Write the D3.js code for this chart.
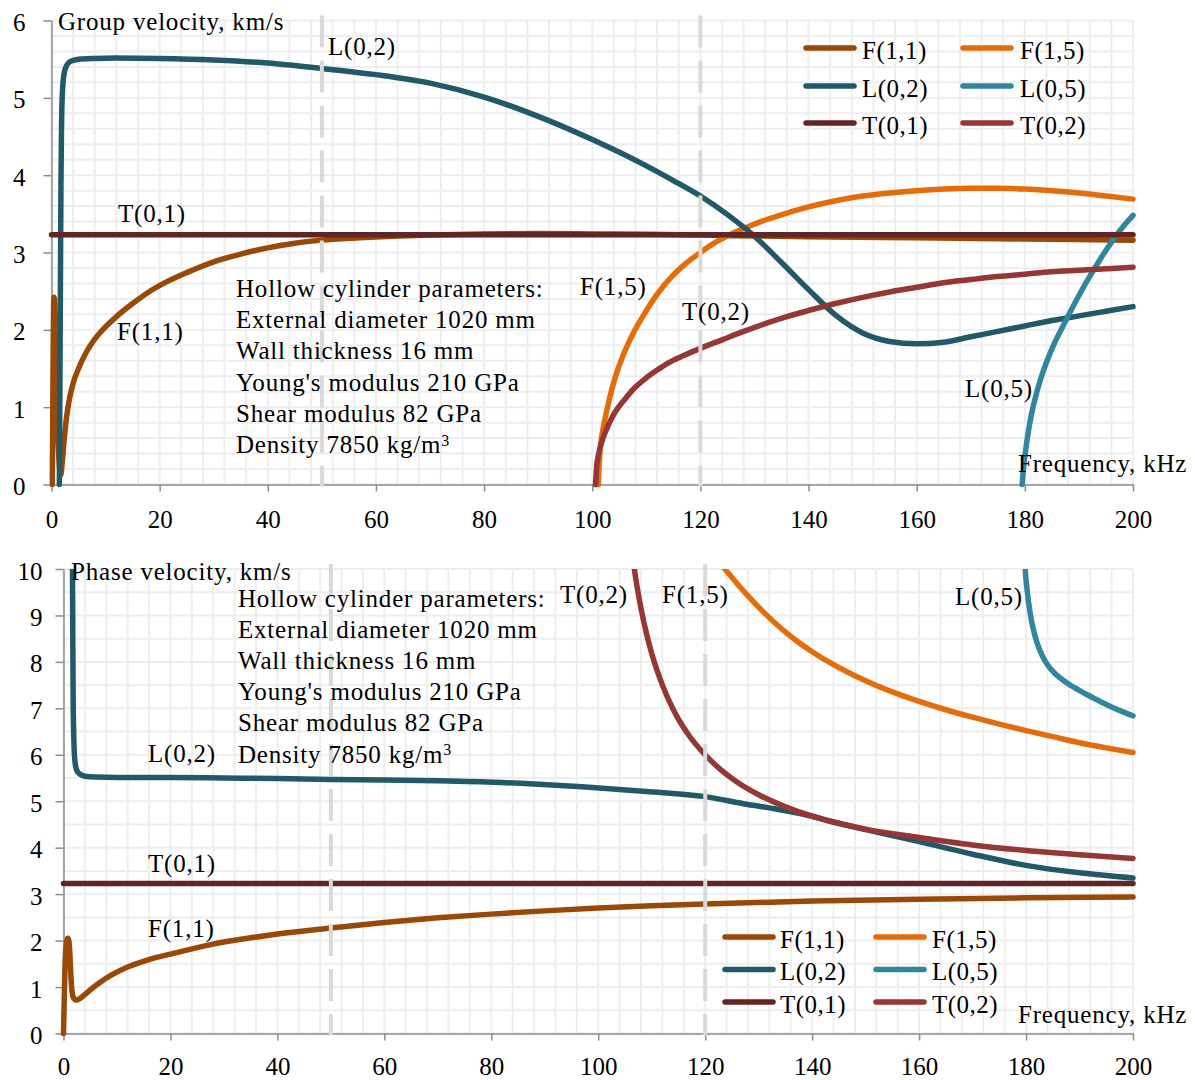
<!DOCTYPE html>
<html><head><meta charset="utf-8">
<script src="https://cdn.jsdelivr.net/npm/d3@7"></script>
<style>
body{margin:0;background:#fff}
text{font-family:"Liberation Serif","Times New Roman",serif;font-size:25px;fill:#000;letter-spacing:0.8px}
</style>
</head><body><svg id="c" width="1195" height="1080"></svg>
<script>
// ---------- DATA ----------
const xTicks = [0,20,40,60,80,100,120,140,160,180,200];
const yTicksGroup = [0,1,2,3,4,5,6];
const yTicksPhase = [0,1,2,3,4,5,6,7,8,9,10];
const seriesNames = ["F(1,1)","F(1,5)","L(0,2)","L(0,5)","T(0,1)","T(0,2)"];
const seriesColors = ["#984807","#E46C0A","#215968","#31859C","#632523","#953735"];
const markerFreqs = [50,120];
const paramLines = ["Hollow cylinder parameters:","External diameter 1020 mm","Wall thickness 16 mm","Young's modulus 210 GPa","Shear modulus 82 GPa","Density 7850 kg/m"];

// Group velocity (km/s) vs frequency (kHz)
const F11g_f = [0.15,0.3,0.45,0.6,0.8,1.0,1.2,1.45,1.7,2.0,2.4,2.8,3.3,4,5,6.5,8,10,12,15,18,21,25,30,35,40,45,50,60,70,80,90,100,110,120,140,160,180,200];
const F11g_v = [0,1.6,2.42,2.35,1.75,1.1,0.6,0.25,0.12,0.3,0.62,0.88,1.1,1.31,1.50,1.72,1.88,2.04,2.17,2.34,2.49,2.61,2.74,2.88,2.98,3.06,3.12,3.16,3.20,3.225,3.24,3.245,3.24,3.235,3.225,3.205,3.19,3.175,3.16];
const F15g_f = [101.1,101.4,102,102.7,103.5,104.5,106,107.6,109.5,111.3,113,115,117,120,123,126,129,132,136,140,145,150,155,160,165,170,175,180,185,190,195,200];
const F15g_v = [0,0.40,0.72,0.96,1.2,1.44,1.72,1.96,2.19,2.39,2.55,2.71,2.84,3.0,3.14,3.25,3.34,3.42,3.51,3.59,3.67,3.73,3.77,3.80,3.82,3.83,3.83,3.82,3.80,3.77,3.73,3.69];
const L02g_f = [1.45,1.55,1.65,1.75,1.85,2.0,2.3,2.8,3.5,5,8,12,20,30,40,50,60,70,80,90,100,110,115,120,125,130,135,140,145,150,155,160,165,170,175,180,185,190,195,200];
const L02g_v = [0,1.2,2.6,3.9,4.6,5.05,5.3,5.42,5.47,5.5,5.51,5.515,5.51,5.49,5.45,5.38,5.30,5.19,5.01,4.76,4.46,4.12,3.93,3.73,3.49,3.21,2.87,2.52,2.19,1.96,1.85,1.82,1.84,1.91,1.98,2.05,2.12,2.18,2.24,2.30];
const L05g_f = [179.5,179.7,180,180.5,181.2,182,183,184,185.5,187,188.6,190.2,192,194,196.3,198,200];
const L05g_v = [0,0.17,0.36,0.62,0.90,1.14,1.38,1.58,1.83,2.04,2.26,2.47,2.69,2.92,3.16,3.32,3.48];
const T01g_f = [0,50,100,150,200];
const T01g_v = [3.23,3.23,3.23,3.23,3.23];
const T02g_f = [100.6,100.8,101.2,102,103,104,106,108,110,112,114,117,120,124,128,132,136,140,145,150,155,160,165,170,175,180,185,190,195,200];
const T02g_v = [0,0.22,0.40,0.60,0.77,0.91,1.10,1.26,1.38,1.48,1.57,1.67,1.76,1.87,1.98,2.08,2.17,2.25,2.34,2.42,2.49,2.55,2.61,2.65,2.69,2.72,2.75,2.77,2.79,2.81];

// Phase velocity (km/s) vs frequency (kHz)
const F11p_f = [0,0.25,0.5,0.8,1.0,1.2,1.4,1.6,1.9,2.3,2.7,3.5,5,6.8,9,12,16,20,25,30,35,40,50,60,70,80,90,100,110,120,140,160,180,200];
const F11p_v = [0,1.3,1.9,2.05,2.0,1.7,1.2,0.9,0.76,0.72,0.73,0.79,0.94,1.10,1.26,1.43,1.59,1.71,1.85,1.97,2.06,2.14,2.27,2.39,2.49,2.57,2.64,2.70,2.75,2.79,2.85,2.89,2.92,2.94];
const F15p_f = [121.5,123,125,128,131,134,137,140,144,148,152,156,160,165,170,175,180,185,190,195,200];
const F15p_v = [10.5,10.12,9.82,9.42,9.06,8.74,8.46,8.22,7.94,7.70,7.49,7.31,7.15,6.97,6.81,6.66,6.52,6.39,6.26,6.15,6.05];
const L02p_f = [1.6,1.7,1.75,1.8,1.9,2.0,2.2,2.5,3.0,4,6,10,20,30,40,50,60,70,78,88,97,109,120,128,133,138,145,150,160,170,180,190,200];
const L02p_v = [12,9.5,8.3,7.3,6.5,6.1,5.8,5.66,5.59,5.54,5.52,5.51,5.51,5.50,5.49,5.47,5.46,5.44,5.42,5.37,5.31,5.21,5.10,4.93,4.84,4.73,4.52,4.39,4.13,3.86,3.62,3.46,3.35];
const L05p_f = [179.5,179.8,180.2,180.7,181.3,182,183,184,185.5,187,189,191,193.5,196,198,200];
const L05p_v = [11.2,10.1,9.55,9.1,8.73,8.43,8.14,7.94,7.74,7.60,7.45,7.32,7.17,7.03,6.93,6.84];
const T01p_f = [0,50,100,150,200];
const T01p_v = [3.23,3.23,3.23,3.23,3.23];
const T02p_f = [105.8,106.7,108,109,110,112,114,117,120,123,126,130,135,140,145,150,160,170,180,190,200];
const T02p_v = [11,10.05,9.15,8.62,8.18,7.5,6.98,6.41,6.0,5.67,5.41,5.14,4.88,4.68,4.53,4.40,4.22,4.06,3.94,3.85,3.77];

// ---------- DRAWING ----------
const zip = (f,v) => f.map((d,i)=>[d, v[i]]);
const groupSeries = [zip(F11g_f,F11g_v), zip(F15g_f,F15g_v), zip(L02g_f,L02g_v), zip(L05g_f,L05g_v), zip(T01g_f,T01g_v), zip(T02g_f,T02g_v)];
const phaseSeries = [zip(F11p_f,F11p_v), zip(F15p_f,F15p_v), zip(L02p_f,L02p_v), zip(L05p_f,L05p_v), zip(T01p_f,T01p_v), zip(T02p_f,T02p_v)];

const svg = d3.select("#c");
const LINE_W = 5.5;

function panel(cfg){
  const g = svg.append("g");
  const x = d3.scaleLinear().domain([0,200]).range([cfg.left, cfg.right]);
  const y = d3.scaleLinear().domain([0,cfg.ymax]).range([cfg.bottom, cfg.top]);

  // grid
  g.append("g").selectAll("line").data(d3.range(0,201,4)).join("line")
    .attr("x1",d=>x(d)).attr("x2",d=>x(d)).attr("y1",cfg.top).attr("y2",cfg.bottom)
    .attr("stroke","#eeeeee").attr("stroke-width",2);
  g.append("g").selectAll("line").data(d3.range(0, Math.round(cfg.ymax/cfg.gridStep)+1)).join("line")
    .attr("x1",cfg.left).attr("x2",cfg.right)
    .attr("y1",d=>y(d*cfg.gridStep)).attr("y2",d=>y(d*cfg.gridStep))
    .attr("stroke","#eeeeee").attr("stroke-width",2);

  // axes
  const ay = g.append("g").attr("transform",`translate(${cfg.left},0)`)
    .call(d3.axisLeft(y).tickValues(cfg.yTicks).tickFormat(d3.format("d")).tickSize(8).tickSizeOuter(0).tickPadding(cfg.yPad));
  const ax = g.append("g").attr("transform",`translate(0,${cfg.bottom})`)
    .call(d3.axisBottom(x).tickValues(xTicks).tickFormat(d3.format("d")).tickSize(7).tickSizeOuter(0));
  [ay,ax].forEach(a=>{
    a.select(".domain").attr("stroke","#8c8c8c").attr("stroke-width",1.5);
    a.selectAll(".tick line").attr("stroke","#8c8c8c").attr("stroke-width",1.5);
  });
  ay.selectAll("text").attr("dy","0.4em").attr("fill","#000").style("letter-spacing","0px");
  ax.selectAll("text").attr("y",cfg.xLabOff).attr("dy","0.35em").attr("fill","#000").style("letter-spacing","0px");

  // curves
  const clipId = "clip"+cfg.id;
  svg.append("clipPath").attr("id",clipId).append("rect")
    .attr("x",cfg.left-10).attr("y",cfg.top).attr("width",cfg.right-cfg.left+20).attr("height",cfg.bottom-cfg.top+12);
  const line = d3.line().x(d=>x(d[0])).y(d=>y(d[1])).curve(d3.curveMonotoneX);
  g.append("g").attr("clip-path",`url(#${clipId})`).selectAll("path").data(cfg.series).join("path")
    .attr("d",line).attr("fill","none")
    .attr("stroke",(d,i)=>seriesColors[i]).attr("stroke-width",LINE_W)
    .attr("stroke-linecap","round").attr("stroke-linejoin","round");

  // dashed markers
  g.append("g").selectAll("line").data(markerFreqs).join("line")
    .attr("x1",d=>x(d)).attr("x2",d=>x(d)).attr("y1",cfg.top-5).attr("y2",cfg.bottom+2)
    .attr("stroke","#d9d9d9").attr("stroke-width",4).attr("stroke-dasharray","32,13");

  // labels
  cfg.labels.forEach(l=>{
    g.append("text").attr("x",l[1]).attr("y",l[2]).attr("dy","0.33em").text(l[0]);
  });

  // parameters block
  const pb = g.append("g");
  paramLines.forEach((t,i)=>{
    const tx = pb.append("text").attr("x",cfg.paramX).attr("y",cfg.paramY+i*cfg.paramStep).attr("dy","0.33em").text(t);
    if(i===paramLines.length-1){
      tx.append("tspan").attr("dy","-0.45em").attr("font-size","16px").text("3");
    }
  });

  // legend
  const lg = g.append("g");
  seriesNames.forEach((n,i)=>{
    const r = Math.floor(i/2), c = i%2;
    const yy = cfg.legY[r];
    lg.append("line").attr("x1",cfg.legSwX[c]+3).attr("x2",cfg.legSwX[c]+51).attr("y1",yy).attr("y2",yy)
      .attr("stroke",seriesColors[i]).attr("stroke-width",LINE_W).attr("stroke-linecap","round");
    lg.append("text").attr("x",cfg.legTxX[c]).attr("y",yy+2.5).attr("dy","0.33em").style("letter-spacing","0.5px").text(n);
  });
}

panel({
  id:"g", left:51.5, right:1133, top:20.5, bottom:484.5, ymax:6, gridStep:0.2,
  yTicks:yTicksGroup, yPad:18, xLabOff:35, series:groupSeries,
  labels:[["Group velocity, km/s",58,21.7],["L(0,2)",328,46.7],["T(0,1)",118,213.3],["F(1,1)",117,331.7],
          ["F(1,5)",580,286.7],["T(0,2)",682,311.7],["L(0,5)",965,388.3],["Frequency, kHz",1018,463.3]],
  paramX:236, paramY:288.5, paramStep:31.3,
  legY:[48,86,123], legSwX:[803,960], legTxX:[862,1020]
});

panel({
  id:"p", left:63.5, right:1133, top:569, bottom:1033.5, ymax:10, gridStep:0.5,
  yTicks:yTicksPhase, yPad:13, xLabOff:33, series:phaseSeries,
  labels:[["Phase velocity, km/s",71,571.7],["T(0,2)",560,595],["F(1,5)",662,595],["L(0,5)",955,596.7],
          ["L(0,2)",148,754],["T(0,1)",148,863.3],["F(1,1)",148,928.3],["Frequency, kHz",1018,1015]],
  paramX:238, paramY:598.3, paramStep:31.2,
  legY:[937,969.5,1002], legSwX:[722,873], legTxX:[780,932]
});
</script></body></html>
